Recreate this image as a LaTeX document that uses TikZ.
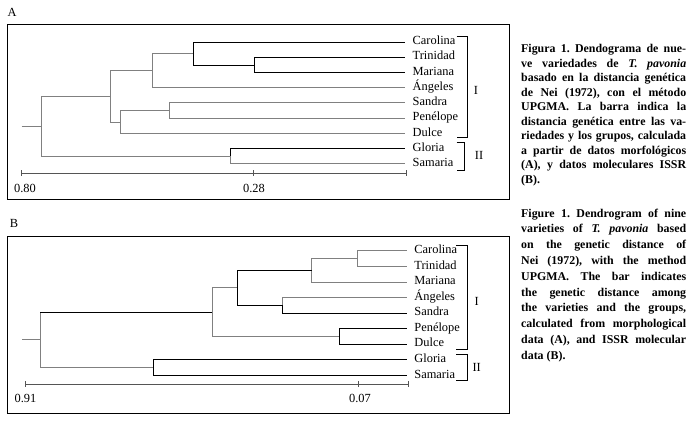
\documentclass[tikz,border=0pt]{standalone}
\usepackage{fontspec}
\setmainfont{Liberation Serif}
\usetikzlibrary{positioning}
\frenchspacing

\definecolor{linegray}{RGB}{128,128,128}
\definecolor{bargray}{RGB}{85,85,85}

\begin{document}
\begin{tikzpicture}
            [x=1pt, y=-1pt,
             lbl/.style={font=\fontsize{12.4}{14}\selectfont, text height=8pt, text depth=2.5pt, inner sep=0pt},
             leaf/.style={lbl, anchor=west, inner xsep=7.5pt},
             blk/.style={draw=black, line width=0.75pt},
             gry/.style={draw=linegray, line width=1pt},
             scalebar/.style={draw=bargray, line width=0.75pt},
             frame/.style={draw=black, line width=0.8pt},
             capt/.style={anchor=north west, inner sep=0pt, text width=165pt, align=justify}]
            \useasboundingbox (0,0) rectangle (691,422);

            % ---------- Panel A ----------
            \node[lbl] (labA) at (12,13.5) {A};
            \draw[frame] (7,24) rectangle (509,199);

            % Leaves
            \node[leaf] (aCar) at (405,42) {Carolina};
            \node[leaf] (aTri) at (405,57.25) {Trinidad};
            \node[leaf] (aMar) at (405,72.5) {Mariana};
            \node[leaf] (aAng) at (405,87.75) {Ángeles};
            \node[leaf] (aSan) at (405,103) {Sandra};
            \node[leaf] (aPen) at (405,118.25) {Penélope};
            \node[leaf] (aDul) at (405,133.5) {Dulce};
            \node[leaf] (aGlo) at (405,148.75) {Gloria};
            \node[leaf] (aSam) at (405,164) {Samaria};

            % Joins
            \coordinate (aTM) at (254,64.9);     % Trinidad + Mariana
            \coordinate (aCTM) at (193,53.4);    % + Carolina
            \coordinate (aCTMA) at (152,70.6);   % + Angeles
            \coordinate (aSP) at (169,110.6);    % Sandra + Penelope
            \coordinate (aSPD) at (120.7,122.1); % + Dulce
            \coordinate (aGrpI) at (110,96.3);   % group I
            \coordinate (aGS) at (230,156.4);    % group II
            \coordinate (aRoot) at (41.3,126.4);
            \coordinate (aStub) at (21.7,126.4);

            % Branches
            \draw[blk] (aTM) |- (aTri.west);
            \draw[blk] (aTM) |- (aMar.west);
            \draw[blk] (aCTM) |- (aCar.west);
            \draw[blk] (aCTM) |- (aTM);
            \draw[gry] (aCTMA) |- (aCTM);
            \draw[gry] (aCTMA) |- (aAng.west);
            \draw[gry] (aSP) |- (aSan.west);
            \draw[gry] (aSP) |- (aPen.west);
            \draw[gry] (aSPD) |- (aSP);
            \draw[gry] (aSPD) |- (aDul.west);
            \draw[gry] (aGrpI) |- (aCTMA);
            \draw[gry] (aGrpI) |- (aSPD);
            \draw[blk] (aGS) |- (aGlo.west);
            \draw[gry] (aGS) |- (aSam.west);
            \draw[gry] (aRoot) |- (aGrpI);
            \draw[gry] (aRoot) |- (aGS);
            \draw[gry] (aStub) -- (aRoot);

            % Scale bar
            \coordinate (aS0) at (21.3,173.3);
            \coordinate (aS1) at (253.3,173.3);
            \coordinate (aS2) at (406,173.3);
            \draw[scalebar] (aS0) -- (aS2);
            \foreach \t in {aS0,aS1,aS2}
                \draw[scalebar] ([yshift=3pt]\t) -- ([yshift=-3pt]\t);
            \node[lbl] (aVal0) at (25,189.5) {0.80};
            \node[lbl] (aVal1) at (254,189.5) {0.28};

            % Groups
            \draw[blk] (456.7,36) -| (467.7,137.7) -- (456.7,137.7);
            \draw[blk] (456.7,142.7) -| (464,170) -- (456.7,170);
            \node[lbl] (aGrpILab) at (476,91.5) {I};
            \node[lbl] (aGrpIILab) at (479,157.2) {II};

            % ---------- Panel B ----------
            \node[lbl] (labB) at (14,224.5) {B};
            \draw[frame] (7,236) rectangle (509,413.3);

            % Leaves
            \node[leaf] (bCar) at (406.7,251) {Carolina};
            \node[leaf] (bTri) at (406.7,266.5) {Trinidad};
            \node[leaf] (bMar) at (406.7,282.1) {Mariana};
            \node[leaf] (bAng) at (406.7,297.6) {Ángeles};
            \node[leaf] (bSan) at (406.7,313.2) {Sandra};
            \node[leaf] (bPen) at (406.7,328.7) {Penélope};
            \node[leaf] (bDul) at (406.7,344.2) {Dulce};
            \node[leaf] (bGlo) at (406.7,359.8) {Gloria};
            \node[leaf] (bSam) at (406.7,375.3) {Samaria};

            % Joins
            \coordinate (bCT) at (357.3,258.75);   % Carolina + Trinidad
            \coordinate (bCTM) at (311.7,270.4);   % + Mariana
            \coordinate (bAS) at (282.7,305.4);    % Angeles + Sandra
            \coordinate (bCTMAS) at (237.3,287.9);
            \coordinate (bPD) at (339.3,336.45);   % Penelope + Dulce
            \coordinate (bGrpI) at (212,312.2);    % group I
            \coordinate (bGS) at (153.3,367.55);   % group II
            \coordinate (bRoot) at (40.3,339.9);
            \coordinate (bStub) at (22.3,339.9);

            % Branches
            \draw[gry] (bCT) |- (bCar.west);
            \draw[gry] (bCT) |- (bTri.west);
            \draw[gry] (bCTM) |- (bCT);
            \draw[gry] (bCTM) |- (bMar.west);
            \draw[gry] (bAS) |- (bAng.west);
            \draw[blk] (bAS) |- (bSan.west);
            \draw[blk] (bCTMAS) |- (bCTM);
            \draw[blk] (bCTMAS) |- (bAS);
            \draw[blk] (bPD) |- (bPen.west);
            \draw[blk] (bPD) |- (bDul.west);
            \draw[gry] (bGrpI) |- (bCTMAS);
            \draw[gry] (bGrpI) |- (bPD);
            \draw[blk] (bGS) |- (bGlo.west);
            \draw[blk] (bGS) |- (bSam.west);
            \draw[gry] (bRoot) |- (bGS);
            \draw[gry] (bRoot) -- (bRoot |- bGrpI);
            \draw[blk] (bRoot |- bGrpI) -- (bGrpI);
            \draw[gry] (bStub) -- (bRoot);

            % Scale bar
            \coordinate (bS0) at (25,384.3);
            \coordinate (bS1) at (358.3,384.3);
            \coordinate (bS2) at (408.3,384.3);
            \draw[scalebar] (bS0) -- (bS2);
            \foreach \t in {bS0,bS1,bS2}
                \draw[scalebar] ([yshift=3pt]\t) -- ([yshift=-3pt]\t);
            \node[lbl] (bVal0) at (25.5,399.8) {0.91};
            \node[lbl] (bVal1) at (360,399.8) {0.07};

            % Groups
            \draw[blk] (456,245) -| (467.7,349.3) -- (456,349.3);
            \draw[blk] (456,354.3) -| (467.7,380.7) -- (456,380.7);
            \node[lbl] (bGrpILab) at (476.7,302.5) {I};
            \node[lbl] (bGrpIILab) at (476.7,369.2) {II};

            % ---------- Captions ----------
            \node[capt, font=\bfseries\fontsize{11.9}{14.55}\selectfont] (capES) at (521,44)
                {\noindent Figura 1. Dendograma de nue-\linebreak
                 ve variedades de \textit{T. pavonia}\linebreak
                 basado en la distancia genética\linebreak
                 de Nei (1972), con el método\linebreak
                 UPGMA. La barra indica la\linebreak
                 distancia genética entre las va-\linebreak
                 riedades y los grupos, calculada\linebreak
                 a partir de datos morfológicos\linebreak
                 (A), y datos moleculares ISSR\linebreak
                 (B).};
            \node[capt, font=\bfseries\fontsize{11.9}{15.8}\selectfont] (capEN) at (521,208.5)
                {\noindent Figure 1. Dendrogram of nine\linebreak
                 varieties of \textit{T. pavonia} based\linebreak
                 on the genetic distance of\linebreak
                 Nei (1972), with the method\linebreak
                 UPGMA. The bar indicates\linebreak
                 the genetic distance among\linebreak
                 the varieties and the groups,\linebreak
                 calculated from morphological\linebreak
                 data (A), and ISSR molecular\linebreak
                 data (B).};
        \end{tikzpicture}
\end{document}
